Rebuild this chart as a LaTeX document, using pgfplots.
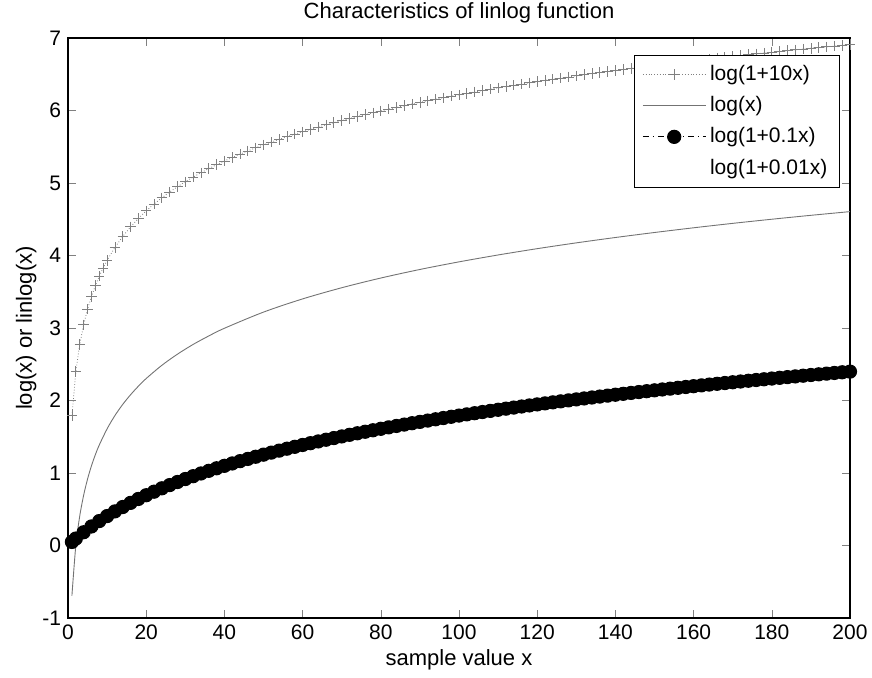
\documentclass[border=0pt]{standalone}
\usepackage{pgfplots}
\pgfplotsset{compat=1.18}
\usepackage{fontspec}
\setmainfont{Liberation Sans}
\usetikzlibrary{calc}
\definecolor{plusgray}{gray}{0.5}
\definecolor{linegray}{gray}{0.45}
\begin{document}
\begin{tikzpicture}[x=1pt,y=1pt]
\begin{axis}[
  name=ax,
  scale only axis,
  width=391pt, height=290pt,
  xmin=0, xmax=200, ymin=-1, ymax=7,
  xtick={0,20,...,200}, ytick={-1,0,...,7},
  tick align=inside, tick pos=both,
  major tick length=4pt,
  axis line style={line width=0.6pt},
  /pgf/number format/assume math mode=true,
  tick label style={font=\fontsize{10.5}{12}\selectfont},
  label style={font=\fontsize{11}{13}\selectfont},
  title style={font=\fontsize{11}{13}\selectfont, yshift=-2pt},
  title={Characteristics of linlog function},
  xlabel={sample value x},
  ylabel={log(x) or linlog(x)},
  xlabel style={yshift=2pt},
  ylabel style={yshift=-4pt},
  legend cell align=left,
  legend style={at={(0.987,0.971)}, anchor=north east, draw=black, line width=0.5pt,
    font=\fontsize{10.5}{12}\selectfont, row sep=2.5pt, inner xsep=4pt, inner ysep=3pt},
  legend image code/.code={\draw[mark repeat=2,mark phase=2] plot coordinates {(0cm,0cm) (0.55cm,0cm) (1.1cm,0cm)};},
]
% log(1+10x)
\addplot[color=plusgray, densely dotted, line width=0.4pt, mark=+, mark size=2.6pt, mark options={solid, line width=0.4pt}] coordinates {
(1,1.7918)(2,2.3979)(3,2.7726)(4,3.0445)(5,3.2581)(6,3.4340)(7,3.5835)(8,3.7136)(9,3.8286)(10,3.9318)
(12,4.1109)(14,4.2627)(16,4.3944)(18,4.5109)(20,4.6151)(22,4.7095)(24,4.7958)(26,4.8752)(28,4.9488)(30,5.0173)
(32,5.0814)(34,5.1417)(36,5.1985)(38,5.2523)(40,5.3033)(42,5.3519)(44,5.3982)(46,5.4424)(48,5.4848)(50,5.5254)
(52,5.5645)(54,5.6021)(56,5.6384)(58,5.6733)(60,5.7071)(62,5.7398)(64,5.7714)(66,5.8021)(68,5.8319)(70,5.8608)
(72,5.8889)(74,5.9162)(76,5.9428)(78,5.9687)(80,5.9940)(82,6.0186)(84,6.0426)(86,6.0661)(88,6.0890)(90,6.1115)
(92,6.1334)(94,6.1549)(96,6.1759)(98,6.1964)(100,6.2166)(102,6.2364)(104,6.2558)(106,6.2748)(108,6.2934)(110,6.3117)
(112,6.3297)(114,6.3474)(116,6.3647)(118,6.3818)(120,6.3986)(122,6.4151)(124,6.4313)(126,6.4473)(128,6.4630)(130,6.4785)
(132,6.4938)(134,6.5088)(136,6.5236)(138,6.5381)(140,6.5525)(142,6.5667)(144,6.5806)(146,6.5944)(148,6.6080)(150,6.6214)
(152,6.6346)(154,6.6477)(156,6.6606)(158,6.6733)(160,6.6859)(162,6.6983)(164,6.7105)(166,6.7226)(168,6.7346)(170,6.7464)
(172,6.7581)(174,6.7696)(176,6.7811)(178,6.7923)(180,6.8035)(182,6.8145)(184,6.8255)(186,6.8363)(188,6.8469)(190,6.8575)
(192,6.8680)(194,6.8783)(196,6.8886)(198,6.8987)(200,6.9088)
};
\addlegendentry{log(1+10x)}
% log(x)
\addplot[color=linegray, line width=0.45pt, smooth] coordinates {
(1,-0.693)(2,0)(3,0.405)(4,0.693)(5,0.916)(6,1.099)(7,1.253)(8,1.386)(10,1.609)(12,1.792)(14,1.946)(16,2.079)(18,2.197)(20,2.303)
(24,2.485)(28,2.639)(32,2.773)(36,2.890)(40,2.996)(50,3.219)(60,3.401)(70,3.555)(80,3.689)(90,3.807)(100,3.912)
(110,4.007)(120,4.094)(130,4.174)(140,4.248)(150,4.317)(160,4.382)(170,4.443)(180,4.500)(190,4.554)(200,4.605)
};
\addlegendentry{log(x)}
% log(1+0.1x)
\addplot[color=black, dash dot, line width=0.5pt, mark=*, mark size=3.3pt, mark options={solid, fill=black}] coordinates {
(1,0.0488)(2,0.0953)(4,0.1823)(6,0.2624)(8,0.3365)(10,0.4055)(12,0.4700)(14,0.5306)(16,0.5878)(18,0.6419)(20,0.6931)
(22,0.7419)(24,0.7885)(26,0.8329)(28,0.8755)(30,0.9163)(32,0.9555)(34,0.9933)(36,1.0296)(38,1.0647)(40,1.0986)
(42,1.1314)(44,1.1632)(46,1.1939)(48,1.2238)(50,1.2528)(52,1.2809)(54,1.3083)(56,1.3350)(58,1.3610)(60,1.3863)
(62,1.4110)(64,1.4351)(66,1.4586)(68,1.4816)(70,1.5041)(72,1.5261)(74,1.5476)(76,1.5686)(78,1.5892)(80,1.6094)
(82,1.6292)(84,1.6487)(86,1.6677)(88,1.6864)(90,1.7047)(92,1.7228)(94,1.7405)(96,1.7579)(98,1.7750)(100,1.7918)
(102,1.8083)(104,1.8245)(106,1.8405)(108,1.8563)(110,1.8718)(112,1.8871)(114,1.9021)(116,1.9169)(118,1.9315)(120,1.9459)
(122,1.9601)(124,1.9741)(126,1.9879)(128,2.0015)(130,2.0149)(132,2.0281)(134,2.0412)(136,2.0541)(138,2.0669)(140,2.0794)
(142,2.0919)(144,2.1041)(146,2.1163)(148,2.1282)(150,2.1401)(152,2.1518)(154,2.1633)(156,2.1748)(158,2.1861)(160,2.1972)
(162,2.2083)(164,2.2192)(166,2.2300)(168,2.2407)(170,2.2513)(172,2.2618)(174,2.2721)(176,2.2824)(178,2.2925)(180,2.3026)
(182,2.3125)(184,2.3224)(186,2.3321)(188,2.3418)(190,2.3514)(192,2.3609)(194,2.3702)(196,2.3795)(198,2.3888)(200,2.3979)
};
\addlegendentry{log(1+0.1x)}
% log(1+0.01x): not visible in the reference
\addplot[draw=none, legend image code/.code={}] coordinates {(1,0.005)(50,0.223)(100,0.405)(150,0.560)(200,0.693)};
\addlegendentry{log(1+0.01x)}
\end{axis}
\pgfresetboundingbox
\path ($(ax.south west)+(-34pt,-30pt)$) rectangle ($(ax.north east)+(11pt,19pt)$);
\end{tikzpicture}
\end{document}
